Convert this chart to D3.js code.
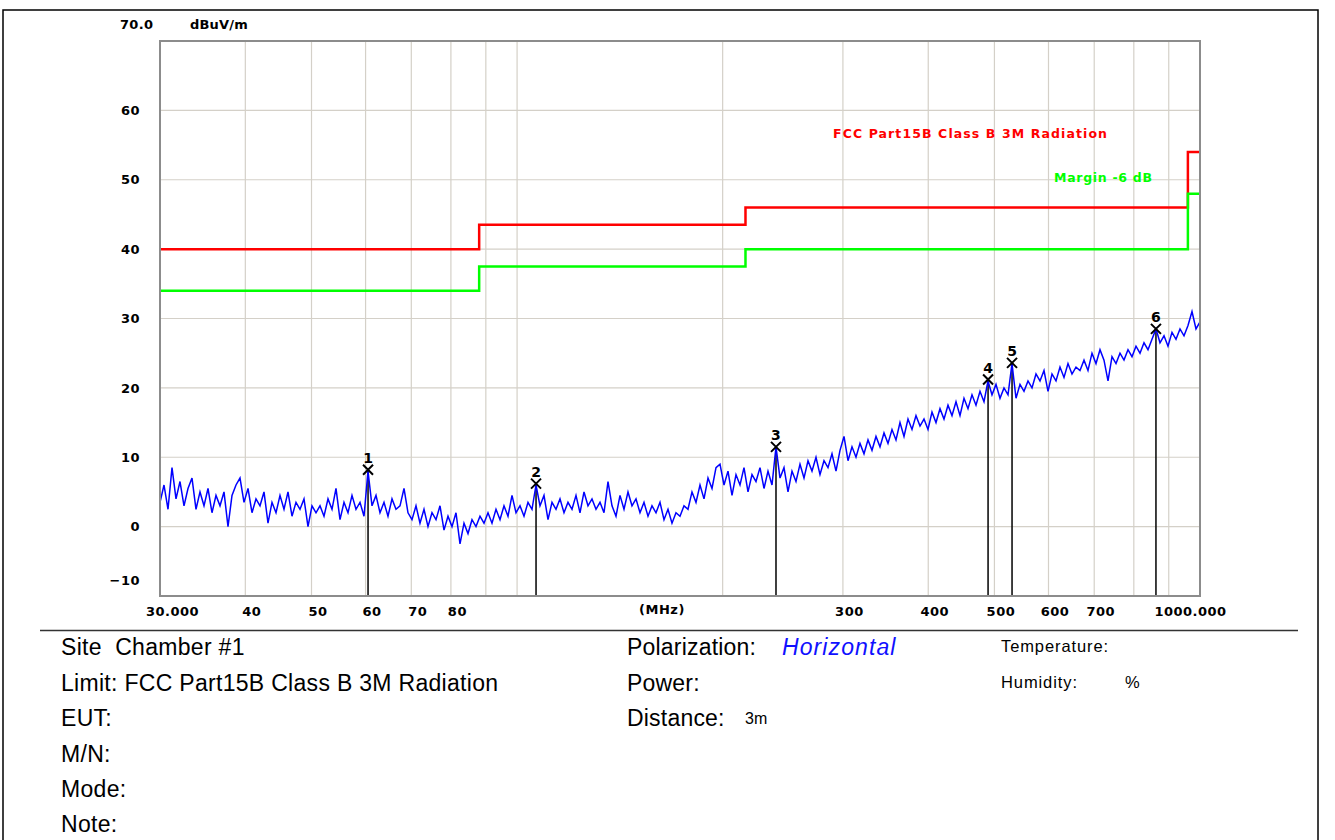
<!DOCTYPE html>
<html>
<head>
<meta charset="utf-8">
<script src="https://cdn.jsdelivr.net/npm/d3@7"></script>
<style>
  body { margin: 0; background: #fff; }
  svg { display: block; }
</style>
</head>
<body>
<script>
const wSvg = 1335;
const hSvg = 840;
const plotLeft = 160, plotRight = 1200, plotTop = 41, plotBottom = 596;

// sweep 30 MHz .. 1000 MHz, levels in dBuV/m (points evenly spread on the log axis)
const sweepStart = 30;
const sweepStop = 1000;
const traceLevel = [
  3.5, 6, 2.5, 8.5, 4, 6.5, 3, 5.5, 7, 2.5, 5, 3, 5.5, 2, 4.5, 3, 5, 0, 4.5, 6,
  7, 3.5, 5.5, 2, 4, 3, 5, 0.5, 3.5, 2, 4.5, 2.5, 5, 1.5, 3.5, 2.5, 4, 0, 3, 2,
  3, 1.5, 4, 2.5, 5.5, 1, 3.5, 2, 4.5, 2.5, 3.5, 1.5, 8, 3, 4.5, 2, 3.5, 1.5, 4, 2.5,
  3, 5.5, 2, 1, 3, 0.5, 2.5, 0, 2, 1, 3, -0.5, 1.5, 0, 2, -2.5, 0.5, -1, 1, 0,
  1.5, 0.5, 2, 0.5, 2.5, 1, 3, 1.5, 4.5, 2, 3, 1.5, 3.5, 2.5, 6, 3, 4.5, 1, 3.5, 2.5,
  4, 2, 3.5, 2.5, 4.5, 2, 5, 3, 4, 2.5, 3.5, 2, 6.5, 3, 1.5, 4.5, 2.5, 5, 3, 4,
  2, 3.5, 1.5, 3, 2, 3.5, 1, 2.5, 0.5, 2, 1.5, 3, 2.5, 5, 3.5, 6, 4, 7, 5.5, 8.5,
  9, 6, 8, 4.5, 7.5, 6, 8.5, 5, 7.5, 6.5, 8.5, 5.5, 8, 6, 11.5, 7, 8.5, 5, 8, 6.5,
  9, 7, 9.5, 8, 10, 7.5, 9.5, 8.5, 10.5, 8, 11, 13, 9.5, 11.5, 10, 12, 10.5, 12.5, 11, 13,
  11.5, 13.5, 12, 14, 12.5, 15, 13, 15.5, 14, 16, 14.5, 15.5, 14, 16.5, 15, 17, 15.5, 17.5, 16, 18,
  16, 18.5, 17, 19, 17.5, 19.5, 18, 21, 19, 20.5, 18.5, 20, 19, 23.5, 18.5, 20.5, 19.5, 21, 20, 22,
  21, 22.5, 19.5, 22, 21, 23, 21.5, 23.5, 22, 23, 22.5, 24, 22.5, 25, 23.5, 25.5, 24, 21, 24.5, 23.5,
  25, 24, 25.5, 24.5, 26, 25, 26.5, 25.5, 27, 28.5, 26.5, 27.5, 26, 28, 27, 28.5, 27.5, 29, 31, 28.5, 29.5
];

const limitFreq = [30, 88, 88, 216, 216, 960, 960, 1000];
const limitLevel = [40, 40, 43.5, 43.5, 46, 46, 54, 54];
const marginDb = 6;

const markerNo = [1, 2, 3, 4, 5, 6];
const markerFreq = [60.5, 106.6, 239.4, 489.4, 530.6, 862];
const markerLevel = [8.2, 6.2, 11.5, 21.2, 23.6, 28.5];

const xTickVals = [30, 40, 50, 60, 70, 80, 300, 400, 500, 600, 700, 1000];
const xTickText = ["30.000", "40", "50", "60", "70", "80", "300", "400", "500", "600", "700", "1000.000"];
const xGridVals = [40, 50, 60, 70, 80, 90, 100, 200, 300, 400, 500, 600, 700, 800, 900];
const yTickVals = [-10, 0, 10, 20, 30, 40, 50, 60];

let xScale = d3.scaleLog([sweepStart, sweepStop], [plotLeft, plotRight]);
let yScale = d3.scaleLinear([-10, 70], [plotBottom, plotTop]);

let svg = d3.select("body")
  .append("svg")
  .attr("width", wSvg)
  .attr("height", hSvg);

// page frame and separator
svg.append("rect")
  .attr("x", 3).attr("y", 10)
  .attr("width", 1315).attr("height", 840)
  .attr("fill", "none").attr("stroke", "#000").attr("stroke-width", 1.5);

svg.append("line")
  .attr("x1", 40).attr("x2", 1298).attr("y1", 630.5).attr("y2", 630.5)
  .attr("stroke", "#333").attr("stroke-width", 1.5);

// grid
let grid = svg.append("g");
grid.selectAll(".vg").data(xGridVals).enter().append("line")
  .attr("x1", d => xScale(d)).attr("x2", d => xScale(d))
  .attr("y1", plotTop).attr("y2", plotBottom)
  .attr("stroke", "#d4d0c8").attr("stroke-width", 1.2);
grid.selectAll(".hg").data(yTickVals.filter(d => d > -10)).enter().append("line")
  .attr("x1", plotLeft).attr("x2", plotRight)
  .attr("y1", d => yScale(d)).attr("y2", d => yScale(d))
  .attr("stroke", "#d4d0c8").attr("stroke-width", 1.2);

// limit and margin lines
let limitData = limitFreq.map((f, i) => ({ f: f, v: limitLevel[i] }));
let line = d3.line().x(d => xScale(d.f)).y(d => yScale(d.v));
svg.append("path").datum(limitData)
  .attr("d", line)
  .attr("fill", "none").attr("stroke", "#ff0000").attr("stroke-width", 2.5);
svg.append("path").datum(limitData.map(d => ({ f: d.f, v: d.v - marginDb })))
  .attr("d", line)
  .attr("fill", "none").attr("stroke", "#00ff00").attr("stroke-width", 2.5);

// marker stems
let markers = markerNo.map((n, i) => ({ n: n, f: markerFreq[i], v: markerLevel[i] }));
svg.selectAll(".stem").data(markers).enter().append("line")
  .attr("x1", d => xScale(d.f)).attr("x2", d => xScale(d.f))
  .attr("y1", plotBottom).attr("y2", d => yScale(d.v))
  .attr("stroke", "#000").attr("stroke-width", 1.5);

// trace
let logStep = (Math.log10(sweepStop) - Math.log10(sweepStart)) / (traceLevel.length - 1);
let traceData = traceLevel.map((v, i) => ({ f: sweepStart * Math.pow(10, i * logStep), v: v }));
svg.append("path").datum(traceData)
  .attr("d", line)
  .attr("fill", "none").attr("stroke", "#0000ff").attr("stroke-width", 1.5);

// marker crosses and numbers
let mk = svg.selectAll(".mk").data(markers).enter().append("g")
  .attr("transform", d => `translate(${xScale(d.f)}, ${yScale(d.v)})`);
mk.append("path")
  .attr("d", "M-5,-5L5,5M5,-5L-5,5")
  .attr("stroke", "#000").attr("stroke-width", 2);
mk.append("text")
  .attr("y", -7)
  .attr("text-anchor", "middle")
  .attr("font-family", "DejaVu Sans")
  .attr("font-weight", "bold")
  .attr("font-size", "14px")
  .text(d => d.n);

// plot frame
svg.append("rect")
  .attr("x", plotLeft).attr("y", plotTop)
  .attr("width", plotRight - plotLeft).attr("height", plotBottom - plotTop)
  .attr("fill", "none").attr("stroke", "#8c8c8c").attr("stroke-width", 2);

// axes
let xAxis = svg.append("g")
  .attr("transform", `translate(0, ${plotBottom})`)
  .call(d3.axisBottom(xScale).tickValues(xTickVals).tickSize(0).tickPadding(11)
    .tickFormat((d, i) => xTickText[i]));
xAxis.select(".domain").remove();
xAxis.selectAll("text")
  .attr("dx", (d, i) => i === 0 ? 12 : (i === xTickVals.length - 1 ? -10 : 6));

let yAxis = svg.append("g")
  .attr("transform", `translate(${plotLeft}, 0)`)
  .call(d3.axisLeft(yScale).tickValues(yTickVals).tickSize(0).tickPadding(20));
yAxis.select(".domain").remove();
yAxis.selectAll("text").filter(d => d === -10).attr("dy", "-0.9em");

svg.selectAll(".tick text")
  .attr("font-family", "DejaVu Sans")
  .attr("font-weight", "bold")
  .attr("font-size", "13px")
  .attr("letter-spacing", "0.5px")
  .attr("fill", "#000");

svg.append("text")
  .attr("x", xScale(163)).attr("y", 614)
  .attr("text-anchor", "middle")
  .attr("font-family", "DejaVu Sans").attr("font-weight", "bold").attr("font-size", "13px")
  .attr("letter-spacing", "0.5px")
  .text("(MHz)");

svg.append("text")
  .attr("x", 120).attr("y", 29)
  .attr("font-family", "DejaVu Sans").attr("font-weight", "bold").attr("font-size", "13px")
  .attr("letter-spacing", "0.3px")
  .text("70.0");
svg.append("text")
  .attr("x", 190).attr("y", 29)
  .attr("font-family", "DejaVu Sans").attr("font-weight", "bold").attr("font-size", "13px")
  .attr("letter-spacing", "0.2px")
  .text("dBuV/m");

// legend
svg.append("text")
  .attr("x", 833).attr("y", 138)
  .attr("font-family", "DejaVu Sans").attr("font-weight", "bold").attr("font-size", "12.5px")
  .attr("letter-spacing", "1.1px")
  .attr("fill", "#ff0000")
  .text("FCC Part15B Class B 3M Radiation");
svg.append("text")
  .attr("x", 1054).attr("y", 182)
  .attr("font-family", "DejaVu Sans").attr("font-weight", "bold").attr("font-size", "12.5px")
  .attr("letter-spacing", "0.7px")
  .attr("fill", "#00ff00")
  .text("Margin -6 dB");

// info block
const infoLeft = ["Site  Chamber #1", "Limit: FCC Part15B Class B 3M Radiation", "EUT:", "M/N:", "Mode:", "Note:"];
const infoMid = ["Polarization:", "Power:", "Distance:"];
const infoRight = ["Temperature:", "Humidity:"];
const rowY = [655, 691, 726, 762, 797, 832];

svg.selectAll(".il").data(infoLeft).enter().append("text")
  .attr("x", 61).attr("y", (d, i) => rowY[i])
  .attr("font-family", "Liberation Sans").attr("font-size", "23px")
  .attr("letter-spacing", "0.3px")
  .style("white-space", "pre")
  .text(d => d);
svg.selectAll(".im").data(infoMid).enter().append("text")
  .attr("x", 627).attr("y", (d, i) => rowY[i])
  .attr("font-family", "Liberation Sans").attr("font-size", "23px")
  .attr("letter-spacing", "0.2px")
  .text(d => d);
svg.append("text")
  .attr("x", 782).attr("y", 655)
  .attr("font-family", "Liberation Sans").attr("font-size", "23px")
  .attr("font-style", "italic").attr("letter-spacing", "1.1px")
  .attr("fill", "#1010ff")
  .text("Horizontal");
svg.append("text")
  .attr("x", 745).attr("y", 724)
  .attr("font-family", "Liberation Sans").attr("font-size", "16px")
  .text("3m");
svg.selectAll(".ir").data(infoRight).enter().append("text")
  .attr("x", 1001).attr("y", (d, i) => [652, 688][i])
  .attr("font-family", "Liberation Sans").attr("font-size", "16.5px")
  .attr("letter-spacing", "0.9px")
  .text(d => d);
svg.append("text")
  .attr("x", 1125).attr("y", 688)
  .attr("font-family", "Liberation Sans").attr("font-size", "16.5px")
  .text("%");
</script>
</body>
</html>
